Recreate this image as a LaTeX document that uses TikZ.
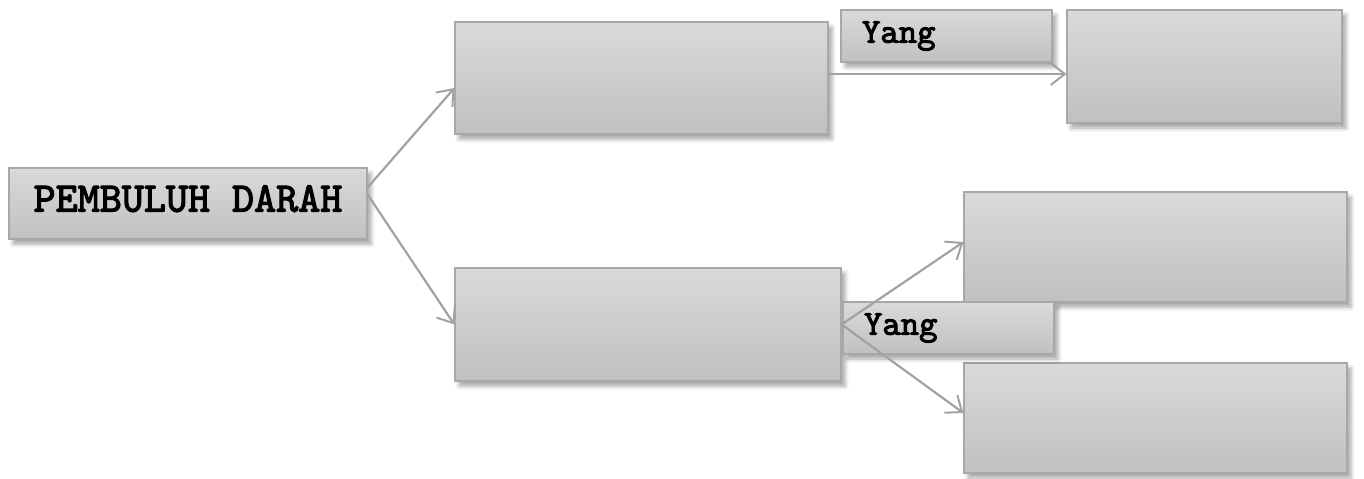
\documentclass[tikz,border=0pt]{standalone}
\usepackage{fontspec}
\setmonofont{lmmono10-regular.otf}[AutoFakeBold=2.8]
\usetikzlibrary{arrows.meta, shadows.blur}
\definecolor{boxtop}{RGB}{218,218,218}
\definecolor{boxbottom}{RGB}{192,192,192}
\definecolor{boxline}{RGB}{168,168,168}
\definecolor{linkgray}{RGB}{162,162,162}

\begin{document}
\begin{tikzpicture}[x=0.5pt, y=-0.5pt,
		box/.style={draw=boxline, line width=0.6pt, top color=boxtop, bottom color=boxbottom, inner sep=0pt,
			blur shadow={shadow xshift=2pt, shadow yshift=-2.5pt, shadow blur radius=2pt, shadow opacity=35}},
		tag/.style={box, text width=84.5pt, inner xsep=10.5pt, minimum height=26pt, align=left, font=\ttfamily\bfseries\fontsize{17.5}{20}\selectfont},
		link/.style={draw=linkgray, line width=1.1pt, -{Straight Barb[length=7pt, width=11pt, line width=1pt]}}]
		\useasboundingbox (0,0) rectangle (1364,478);
		\node[box, minimum width=179pt, minimum height=35.5pt, text depth=5pt, font=\ttfamily\bfseries\fontsize{21}{24}\selectfont] (pd) at (188,203.5) {PEMBULUH DARAH};
		\node[box, minimum width=186.5pt, minimum height=56pt] (mt) at (641.5,78) {};
		\node[box, minimum width=193pt, minimum height=56.5pt] (mb) at (648,324.5) {};
		\node[box, minimum width=137.5pt, minimum height=56.5pt] (rt) at (1204.5,66.5) {};
		\node[box, minimum width=191.5pt, minimum height=55pt] (ru) at (1155.5,247) {};
		\node[box, minimum width=191.5pt, minimum height=55pt] (rl) at (1155.5,418) {};
		\node[tag] (yt) at (946.5,36) {Yang};
		\node[tag] (yb) at (948.5,328) {Yang};
		\draw[link] ([yshift=8pt]pd.east) -- ([yshift=-5pt]mt.west);
		\draw[link] ([yshift=4.5pt]pd.east) -- (mb.west);
		\draw[link] ([yshift=2pt]mt.east) -- ([yshift=2pt]mt.east -| rt.west);
		\foreach \n in {ru, rl}
			\draw[link] (mb.east) -- ([yshift=2.5pt]\n.west);
	\end{tikzpicture}
\end{document}
